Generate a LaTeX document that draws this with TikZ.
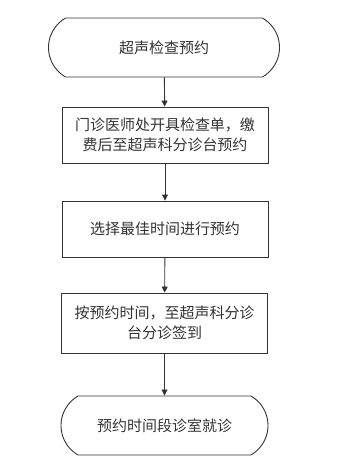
\documentclass[tikz,border=0pt]{standalone}
\usepackage{fontspec}
\newfontfamily\cjk{Noto Sans CJK SC}
\usepackage{xcolor}
\usetikzlibrary{arrows.meta,shapes.misc}
\tikzset{
  term/.style={rounded rectangle,rounded rectangle arc length=120,draw=black!80,line width=0.9pt,minimum width=207pt,minimum height=59pt,inner sep=0pt},
  proc/.style={rectangle,draw=black!80,line width=0.9pt,minimum width=206pt,minimum height=56pt,align=center,inner sep=0pt},
  flow/.style={draw=black!80,line width=0.9pt,-{Triangle[length=6pt,width=6pt]}}
}

\begin{document}
\begin{tikzpicture}[x=1pt,y=1pt,font=\cjk\fontsize{15}{20}\selectfont,text=black!80]
\useasboundingbox (0,0) rectangle (341,-464);
\node[term,minimum width=231pt] (start) at (164,-47.5) {超声检查预约};
\node[proc] (order) at (165,-135) {门诊医师处开具检查单，缴\\费后至超声科分诊台预约};
\node[proc] (pick) at (165,-229) {选择最佳时间进行预约};
\node[proc,minimum height=60pt] (sign) at (164.5,-323) {按预约时间，至超声科分诊\\台分诊签到};
\node[term] (visit) at (164.5,-425.5) {预约时间段诊室就诊};
\draw[flow] (start) -- (order);
\draw[flow] (order) -- (pick);
\draw[flow] (pick) -- (sign);
\draw[flow] (sign) -- (visit);
\end{tikzpicture}
\end{document}
